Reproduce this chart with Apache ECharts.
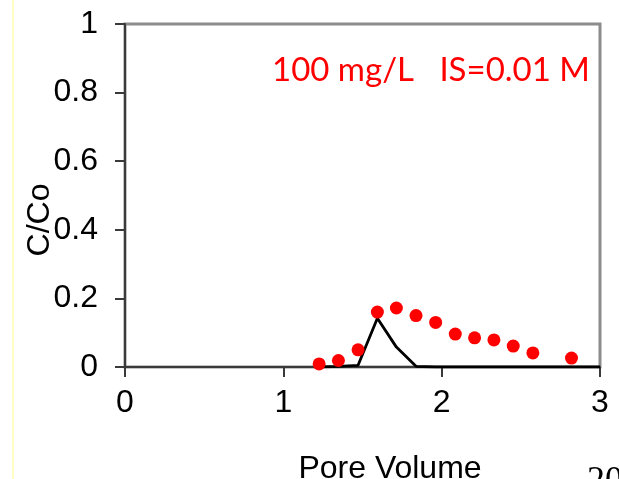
<!DOCTYPE html>
<html>
<head>
<meta charset="utf-8">
<script src="https://cdn.jsdelivr.net/npm/echarts@6/dist/echarts.min.js"></script>
<style>
html,body{margin:0;padding:0;background:#fff;}
#c{width:619px;height:479px;}
</style>
</head>
<body>
<div id="c"></div>
<script>
// Observed data (red dots)
var obsX = [1.226, 1.348, 1.472, 1.594, 1.714, 1.838, 1.962, 2.086, 2.208, 2.330, 2.452, 2.576, 2.820];
var obsY = [0.009, 0.019, 0.050, 0.160, 0.172, 0.150, 0.130, 0.096, 0.085, 0.079, 0.061, 0.041, 0.026];
// Model curve (black line)
var modX = [1.226, 1.348, 1.472, 1.594, 1.714, 1.838, 1.962, 2.086, 2.208, 2.330, 2.452, 2.576, 2.820, 3.0];
var modY = [0.000, 0.002, 0.005, 0.142, 0.058, 0.002, 0.000, 0.000, 0.000, 0.000, 0.000, 0.000, 0.000, 0.000];
var xTicks = [0, 1, 2, 3];
var yTicks = [0, 0.2, 0.4, 0.6, 0.8, 1];
var titleText = '100 mg/L   IS=0.01 M';
var xName = 'Pore Volume';
var yName = 'C/Co';
var pageNum = '20';

function zip(a, b) { return a.map(function (v, i) { return [v, b[i]]; }); }

var chart = echarts.init(document.getElementById('c'), null, {renderer: 'canvas'});
var font = '"Liberation Sans", Arial, sans-serif';
chart.setOption({
  animation: false,
  backgroundColor: '#ffffff',
  grid: {left: 125, top: 24, right: 19, bottom: 112, show: true, borderColor: '#8c8c8c', borderWidth: 3, backgroundColor: 'transparent'},
  xAxis: {
    type: 'value', min: xTicks[0], max: xTicks[xTicks.length - 1], interval: 1,
    axisLine: {show: true, onZero: false, lineStyle: {color: '#3a3a3a', width: 2}},
    axisTick: {show: true, inside: false, length: 10, lineStyle: {color: '#3a3a3a', width: 2}},
    axisLabel: {fontFamily: font, fontSize: 32, color: '#000', margin: 20},
    splitLine: {show: false}
  },
  yAxis: {
    type: 'value', min: yTicks[0], max: yTicks[yTicks.length - 1], interval: 0.2,
    axisLine: {show: true, onZero: false, lineStyle: {color: '#3a3a3a', width: 2}},
    axisTick: {show: true, inside: false, length: 10, lineStyle: {color: '#3a3a3a', width: 2}},
    axisLabel: {fontFamily: font, fontSize: 32, color: '#000', margin: 27,
      formatter: function (v) { return String(Math.round(v * 10) / 10); }},
    splitLine: {show: false}
  },
  series: [
    {
      type: 'line', data: zip(modX, modY), showSymbol: false, symbol: 'none',
      lineStyle: {color: '#000', width: 2.8}, z: 3
    },
    {
      type: 'scatter', data: zip(obsX, obsY), symbol: 'circle', symbolSize: 13,
      itemStyle: {color: '#ff0000', opacity: 1}, z: 4
    }
  ],
  graphic: [
    {type: 'rect', shape: {x: 12, y: 0, width: 2, height: 479}, style: {fill: '#ffffc4'}, silent: true},
    {type: 'text', left: 272, top: 54, style: {text: titleText, fill: '#ff0000', font: '33px Lato, "Liberation Sans", sans-serif'}},
    {type: 'text', x: 40, y: 220, rotation: Math.PI / 2, style: {text: yName, fill: '#000', font: '32px ' + font, textAlign: 'center', textVerticalAlign: 'middle'}},
    {type: 'text', x: 390, y: 453, style: {text: xName, fill: '#000', font: '32px ' + font, textAlign: 'center', textVerticalAlign: 'top'}},
    {type: 'text', x: 587, y: 464, style: {text: pageNum, fill: '#000', font: '36px "Liberation Serif", serif', textAlign: 'left', textVerticalAlign: 'top'}}
  ]
});
</script>
</body>
</html>
